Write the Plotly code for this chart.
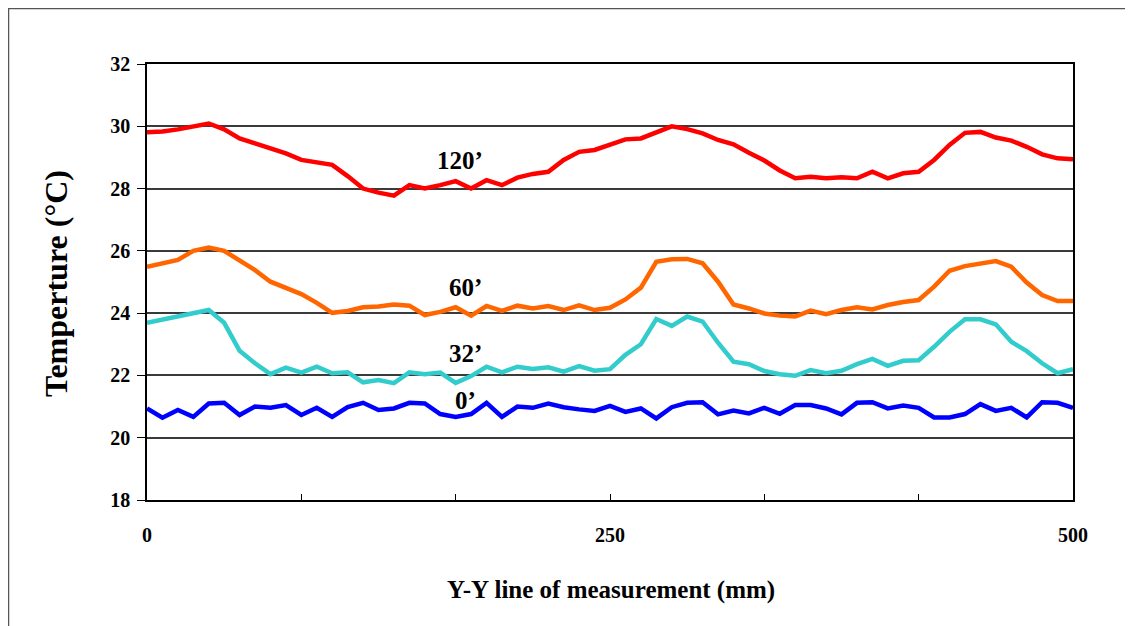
import plotly.graph_objects as go

# Measurement positions along the Y-Y line (mm): 61 equally spaced points from 0 to 500
positions_mm = [round(i * 500 / 60, 2) for i in range(61)]

temp_120 = [29.81, 29.83, 29.90, 30.00, 30.09, 29.90, 29.61, 29.45, 29.29, 29.13,
            28.92, 28.83, 28.76, 28.40, 28.00, 27.87, 27.77, 28.11, 28.00, 28.11,
            28.24, 28.00, 28.27, 28.11, 28.35, 28.47, 28.54, 28.92, 29.18, 29.24,
            29.42, 29.58, 29.61, 29.81, 30.00, 29.91, 29.77, 29.56, 29.42, 29.15,
            28.90, 28.58, 28.33, 28.38, 28.33, 28.36, 28.33, 28.54, 28.33, 28.49,
            28.54, 28.92, 29.40, 29.79, 29.82, 29.64, 29.54, 29.34, 29.10, 28.97,
            28.94]

temp_60 = [25.49, 25.60, 25.71, 26.00, 26.11, 26.00, 25.71, 25.38, 25.01, 24.80,
           24.61, 24.33, 24.01, 24.07, 24.19, 24.21, 24.28, 24.24, 23.94, 24.04,
           24.19, 23.92, 24.23, 24.07, 24.24, 24.15, 24.23, 24.10, 24.25, 24.10,
           24.17, 24.44, 24.82, 25.65, 25.73, 25.74, 25.60, 25.01, 24.28, 24.15,
           23.99, 23.92, 23.89, 24.08, 23.97, 24.10, 24.19, 24.12, 24.26, 24.36,
           24.42, 24.85, 25.36, 25.51, 25.60, 25.67, 25.49, 24.98, 24.58, 24.39,
           24.39]

temp_32 = [23.69, 23.80, 23.89, 23.99, 24.10, 23.69, 22.79, 22.39, 22.04, 22.25,
           22.09, 22.28, 22.07, 22.10, 21.78, 21.85, 21.75, 22.10, 22.04, 22.09,
           21.76, 21.98, 22.28, 22.10, 22.28, 22.21, 22.26, 22.12, 22.30, 22.15,
           22.20, 22.66, 23.00, 23.81, 23.59, 23.89, 23.73, 23.05, 22.44, 22.36,
           22.14, 22.04, 21.99, 22.17, 22.07, 22.15, 22.36, 22.53, 22.31, 22.47,
           22.49, 22.92, 23.40, 23.80, 23.80, 23.64, 23.08, 22.78, 22.39, 22.07,
           22.20]

temp_0 = [20.94, 20.64, 20.89, 20.67, 21.10, 21.12, 20.73, 21.00, 20.96, 21.05,
          20.73, 20.96, 20.67, 20.98, 21.12, 20.89, 20.94, 21.12, 21.10, 20.76,
          20.67, 20.76, 21.12, 20.67, 21.00, 20.96, 21.10, 20.98, 20.91, 20.86,
          21.02, 20.83, 20.94, 20.62, 20.98, 21.12, 21.14, 20.75, 20.87, 20.78,
          20.96, 20.77, 21.05, 21.05, 20.94, 20.75, 21.12, 21.14, 20.94, 21.03,
          20.96, 20.65, 20.65, 20.76, 21.08, 20.86, 20.96, 20.65, 21.14, 21.12,
          20.96]

series_names = ["120’", "60’", "32’", "0’"]
series_values = [temp_120, temp_60, temp_32, temp_0]
series_colors = ["#FF0000", "#FF6600", "#33CCCC", "#0000FF"]

x_tick_vals = [0, 83.333, 166.667, 250, 333.333, 416.667, 500]
x_tick_text = ["0", "", "", "250", "", "", "500"]
y_tick_vals = [18, 20, 22, 24, 26, 28, 30, 32]
y_tick_text = ["18", "20", "22", "24", "26", "28", "30", "32"]

# label anchor positions (data coords) for the in-plot series labels
label_pos = [(169, 28.89), (172, 24.81), (172, 22.69), (172, 21.21)]

FONT = "Liberation Serif"

# The page body has an 8px margin: figure is placed at (8, 8) in the window.
OFF = 8
W, H = 1133 - OFF, 626 - OFF
# plot-area geometry in window pixels (as in the reference)
L, R, T, B = 147, 1073, 64, 500
pw, ph = R - L, B - T


def px(x):
    return (x - L) / pw


def py(y):
    return (B - y) / ph


fig = go.Figure()
for name, vals, col in zip(series_names, series_values, series_colors):
    fig.add_trace(go.Scatter(x=positions_mm, y=vals, mode="lines", name=name,
                             line=dict(color=col, width=4.5), showlegend=False))

annotations = []
for name, (lx, ly) in zip(series_names, label_pos):
    annotations.append(dict(x=lx, y=ly, xref="x", yref="y", text=name,
                            xanchor="center", yanchor="middle", showarrow=False,
                            font=dict(family=FONT, size=25, color="black", weight="bold")))

annotations.append(dict(x=px(56), y=py(284), xref="paper", yref="paper",
                        text="Temperture (°C)", textangle=-90, showarrow=False,
                        xanchor="center", yanchor="middle",
                        font=dict(family=FONT, size=32, color="black", weight="bold")))
annotations.append(dict(x=px(611), y=py(590), xref="paper", yref="paper",
                        text="Y-Y line of measurement (mm)", showarrow=False,
                        xanchor="center", yanchor="middle",
                        font=dict(family=FONT, size=25, color="black", weight="bold")))

shapes = [
    dict(type="line", xref="paper", yref="paper", x0=px(0), x1=px(1140), y0=py(8.5), y1=py(8.5),
         line=dict(color="#555555", width=1.5)),
    dict(type="line", xref="paper", yref="paper", x0=px(8.5), x1=px(8.5), y0=py(8.5), y1=py(640),
         line=dict(color="#555555", width=1.5)),
]

fig.update_layout(
    width=W, height=H, autosize=False,
    margin=dict(l=L - OFF, r=1133 - R, t=T - OFF, b=626 - B, pad=0),
    paper_bgcolor="white", plot_bgcolor="white",
    font=dict(family=FONT, color="black"),
    annotations=annotations, shapes=shapes,
    xaxis=dict(range=[0, 500], tickvals=x_tick_vals, ticktext=x_tick_text,
               ticks="inside", ticklen=6, tickwidth=1, tickcolor="black",
               showgrid=False, zeroline=False, showline=True, linecolor="black",
               linewidth=1.5, mirror=True, ticklabelstandoff=16,
               tickfont=dict(family=FONT, size=20, color="black", weight="bold")),
    yaxis=dict(range=[18, 32], tickvals=y_tick_vals, ticktext=y_tick_text,
               ticks="outside", ticklen=8,
               tickwidth=1, tickcolor="black", showgrid=True, gridcolor="#3a3a3a",
               gridwidth=1.5, zeroline=False, showline=True, linecolor="black",
               linewidth=1.5, mirror=True, ticklabelstandoff=3,
               tickfont=dict(family=FONT, size=20, color="black", weight="bold")),
)

fig.write_html("out.html")
